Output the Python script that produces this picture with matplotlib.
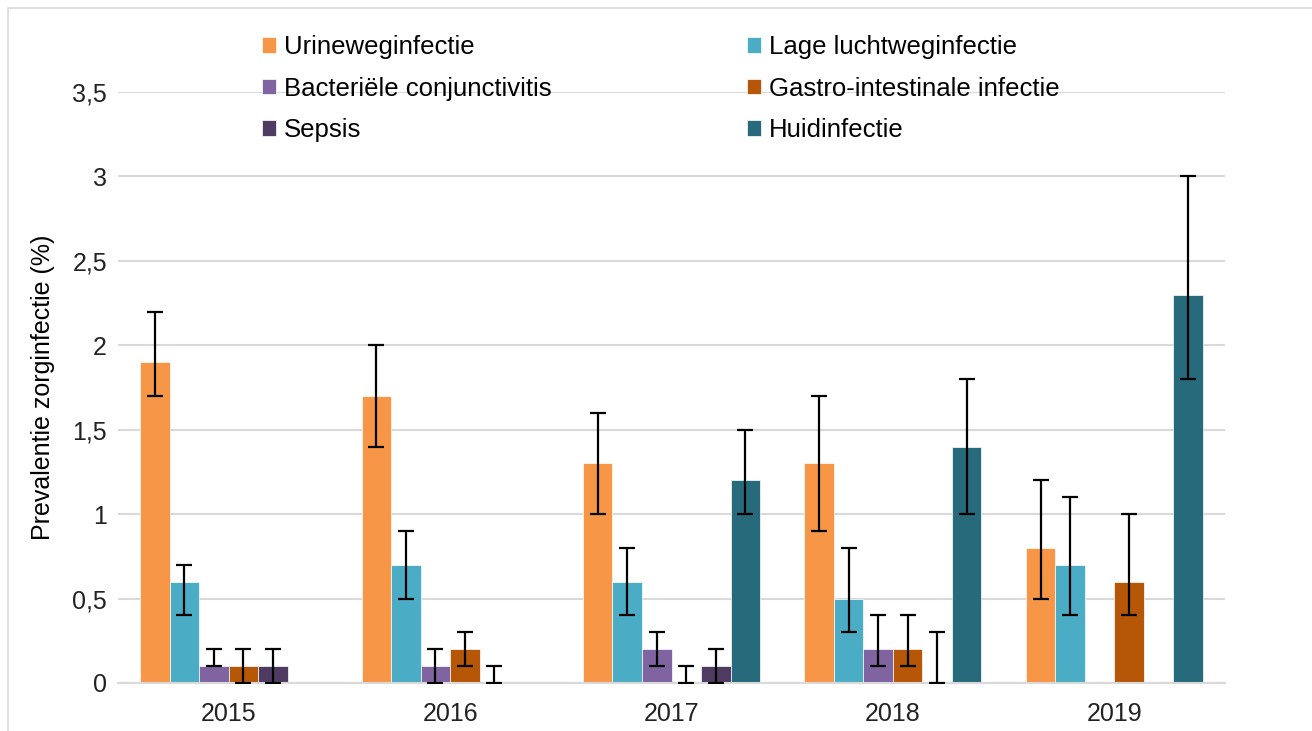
import numpy as np
import matplotlib
matplotlib.use("Agg")
import matplotlib.pyplot as plt
from matplotlib.patches import Rectangle

plt.rcParams['font.family'] = ['Liberation Sans', 'DejaVu Sans']

years = ['2015', '2016', '2017', '2018', '2019']
series = ['Urineweginfectie', 'Lage luchtweginfectie', 'Bacteriële conjunctivitis',
          'Gastro-intestinale infectie', 'Sepsis', 'Huidinfectie']
colors = ['#F79646', '#4BACC6', '#8064A2', '#B65708', '#4F3B62', '#276A7C']

nan = np.nan
urine = [1.9, 1.7, 1.3, 1.3, 0.8]
urine_lo = [1.7, 1.4, 1.0, 0.9, 0.5]
urine_hi = [2.2, 2.0, 1.6, 1.7, 1.2]

lage = [0.6, 0.7, 0.6, 0.5, 0.7]
lage_lo = [0.4, 0.5, 0.4, 0.3, 0.4]
lage_hi = [0.7, 0.9, 0.8, 0.8, 1.1]

bact = [0.1, 0.1, 0.2, 0.2, nan]
bact_lo = [0.1, 0.0, 0.1, 0.1, nan]
bact_hi = [0.2, 0.2, 0.3, 0.4, nan]

gastro = [0.1, 0.2, 0.0, 0.2, 0.6]
gastro_lo = [0.0, 0.1, 0.0, 0.1, 0.4]
gastro_hi = [0.2, 0.3, 0.1, 0.4, 1.0]

sepsis = [0.1, 0.0, 0.1, 0.0, nan]
sepsis_lo = [0.0, 0.0, 0.0, 0.0, nan]
sepsis_hi = [0.2, 0.1, 0.2, 0.3, nan]

huid = [nan, nan, 1.2, 1.4, 2.3]
huid_lo = [nan, nan, 1.0, 1.0, 1.8]
huid_hi = [nan, nan, 1.5, 1.8, 3.0]

values = [urine, lage, bact, gastro, sepsis, huid]
los = [urine_lo, lage_lo, bact_lo, gastro_lo, sepsis_lo, huid_lo]
his = [urine_hi, lage_hi, bact_hi, gastro_hi, sepsis_hi, huid_hi]

fig = plt.figure(figsize=(13.12, 7.31), dpi=100)
ax = fig.add_axes([118/1312, 1-683/731, (1225-118)/1312, (683-92)/731])

x = np.arange(len(years))
n = len(series)
bw = 0.8 / n
handles = []
for i in range(n):
    v = np.array(values[i], dtype=float)
    lo = np.array(los[i], dtype=float)
    hi = np.array(his[i], dtype=float)
    pos = x - 0.4 + bw * (i + 0.5)
    h = ax.bar(pos, np.nan_to_num(v), width=bw, color=colors[i], label=series[i],
               edgecolor='white', linewidth=0.5, zorder=2)
    handles.append(h)
    mask = ~np.isnan(v)
    ax.errorbar(pos[mask], v[mask], yerr=[v[mask]-lo[mask], hi[mask]-v[mask]],
                fmt='none', ecolor='black', elinewidth=1.6, capsize=6, capthick=1.6, zorder=3)

ax.set_xlim(-0.5, 4.5)
ax.set_ylim(0, 3.5)
ax.set_yticks(np.arange(0, 3.51, 0.5))
ax.set_yticklabels(['0', '0,5', '1', '1,5', '2', '2,5', '3', '3,5'])
ax.set_xticks(x)
ax.set_xticklabels(years)
ax.tick_params(axis='both', length=0, labelsize=18, colors='#222222')
ax.tick_params(axis='x', pad=14)
ax.tick_params(axis='y', pad=8)
ax.yaxis.grid(True, color='#D9D9D9', linewidth=1.5, zorder=0)
ax.set_axisbelow(True)
for s in ['top', 'right', 'left']:
    ax.spines[s].set_visible(False)
ax.spines['bottom'].set_color('#D9D9D9')
ax.spines['bottom'].set_linewidth(1.5)
ax.set_ylabel('Prevalentie zorginfectie (%)', fontsize=18, labelpad=12)

order = [0, 2, 4, 1, 3, 5]
leg = fig.legend([handles[k] for k in order], [series[k] for k in order], ncol=2,
                 loc='upper left', bbox_to_anchor=(252/1312, 1-25/731), frameon=False,
                 fontsize=18.5, handlelength=0.55, handleheight=0.55, handletextpad=0.3,
                 columnspacing=7.6, labelspacing=0.68, borderaxespad=0)

fig.patches.append(Rectangle((8/1312, -0.01), 1.1, 1-8/731+0.01, transform=fig.transFigure,
                             fill=False, edgecolor='#D9D9D9', linewidth=1.2))

fig.savefig('out.png', dpi=100)
